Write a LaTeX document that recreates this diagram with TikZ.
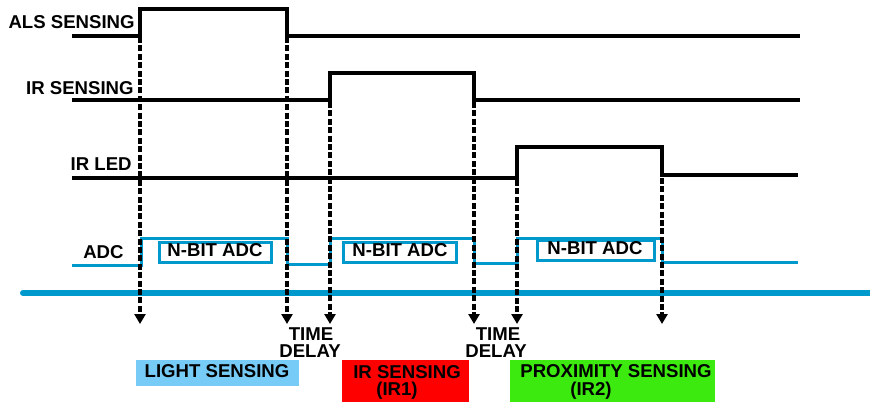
\documentclass[tikz,border=0pt]{standalone}
\usepackage{fontspec}
\setmainfont{Liberation Sans}
\usetikzlibrary{arrows.meta}

\definecolor{adcblue}{HTML}{0099CC}
\definecolor{lightblue}{HTML}{77CCF7}
\definecolor{irred}{HTML}{FF0000}
\definecolor{proxgreen}{HTML}{3DEA10}

\begin{document}
\begin{tikzpicture}[
  x=0.5pt, y=-0.5pt,
  every node/.style={font=\bfseries\fontsize{9.3}{10}\selectfont, inner sep=0pt, anchor=base},
  sig/.style={draw=black, line width=1.8pt},
  adc/.style={draw=adcblue, line width=1.5pt},
  guide/.style={draw=black, line width=2pt, dash pattern=on 3pt off 1.2pt, -{Triangle[length=5pt,width=5.5pt]}},
  sig label/.style={anchor=base east}
]
\useasboundingbox (0,0) rectangle (870,402);

% Signaux
\node[sig label] (als) at (135,28) {ALS SENSING};
\draw[sig] (72,36) -- (140,36) -- (140,9) -- (287,9) -- (287,36) -- (800,36);

\node[sig label] (irs) at (134,94) {IR SENSING};
\draw[sig] (72,100) -- (330,100) -- (330,73) -- (474,73) -- (474,100) -- (800,100);

\node[sig label] (irled) at (132,170) {IR LED};
\draw[sig] (72,178) -- (517,178) -- (517,147) -- (662,147) -- (662,175) -- (798,175);

% ADC
\node[sig label] (adc) at (124,258) {ADC};
\draw[adc] (72,265) -- (141,265) -- (141,238) -- (287,238) -- (287,264)
  -- (330,264) -- (330,238) -- (474,238) -- (474,263)
  -- (517,263) -- (517,238) -- (662,238) -- (662,262) -- (798,262);
\draw[adc] (159,242) rectangle (271,262);
\node (adc1) at (215,256) {N-BIT ADC};
\draw[adc] (343,242) rectangle (456,262);
\node (adc2) at (400,256) {N-BIT ADC};
\draw[adc] (537,240) rectangle (654,260);
\node (adc3) at (595,254) {N-BIT ADC};

\draw[adcblue, line width=3pt, line cap=round] (23,293) -- (870,293);

% Fronts
\foreach \t/\s in {140/37, 287/37, 330/102, 474/102, 517/180, 662/178}
  \draw[guide] (\t,\s) -- (\t,324);

\node (td1a) at (311,340) {TIME};
\node (td1b) at (310,357) {DELAY};
\node (td2a) at (498,340) {TIME};
\node (td2b) at (496,357) {DELAY};

% Phases
\fill[lightblue] (136,360) rectangle (299,386);
\node (light) at (217,377) {LIGHT SENSING};

\fill[irred] (342,360) rectangle (469,402);
\node (ir1a) at (407,378) {IR SENSING};
\node (ir1b) at (397,395) {(IR1)};

\fill[proxgreen] (510,360) rectangle (715,402);
\node (ir2a) at (616,377) {PROXIMITY SENSING};
\node (ir2b) at (591,395) {(IR2)};
\end{tikzpicture}
\end{document}
